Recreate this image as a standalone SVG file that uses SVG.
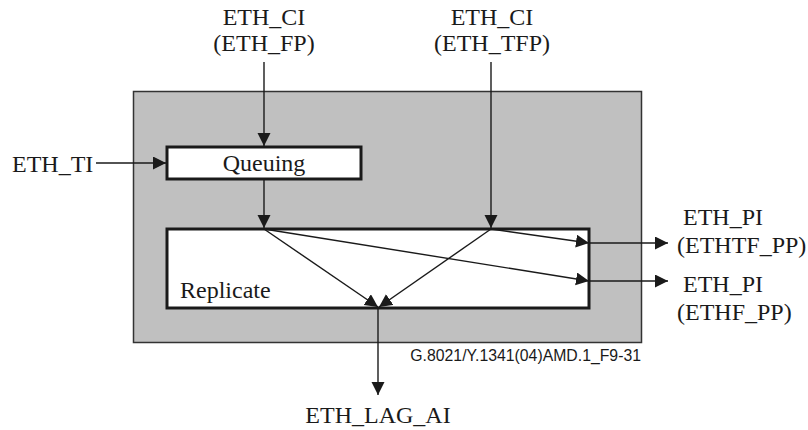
<svg xmlns="http://www.w3.org/2000/svg" width="808" height="430" viewBox="0 0 808 430">
<defs>
<marker id="ah" markerUnits="userSpaceOnUse" markerWidth="14" markerHeight="14" refX="13" refY="6.5" orient="auto">
<path d="M0,0 L13,6.5 L0,13 z" fill="#1a1a1a"/>
</marker>
</defs>
<style>
.t{font-family:"Liberation Serif","Times New Roman",serif;font-size:24px;fill:#1a1a1a}
.c{text-anchor:middle}
.cap{font-family:"Liberation Sans",Arial,sans-serif;font-size:15.8px;fill:#1a1a1a;text-anchor:end}
.box{fill:#fff;stroke:#1a1a1a;stroke-width:3}
.ln{stroke:#1a1a1a;stroke-width:1.4;fill:none}
.ar{marker-end:url(#ah)}
</style>
<rect width="808" height="430" fill="#fff"/>
<g id="container">
<rect x="133.5" y="91.5" width="508" height="251" fill="#c0c0c0" stroke="#333" stroke-width="1.5"/>
</g>
<g id="queuing">
<rect class="box" x="167" y="147" width="194" height="32"/>
<text class="t c" x="264" y="171">Queuing</text>
</g>
<g id="replicate">
<rect class="box" x="167" y="229" width="422" height="79"/>
<text class="t" x="180" y="298">Replicate</text>
</g>
<g id="labels">
<text class="t c" x="264" y="25">ETH_CI</text>
<text class="t c" x="264" y="51">(ETH_FP)</text>
<text class="t c" x="492" y="25">ETH_CI</text>
<text class="t c" x="492" y="51">(ETH_TFP)</text>
<text class="t" x="12" y="172">ETH_TI</text>
<text class="t" x="683" y="225">ETH_PI</text>
<text class="t" x="677" y="253">(ETHTF_PP)</text>
<text class="t" x="683" y="292">ETH_PI</text>
<text class="t" x="677" y="320">(ETHF_PP)</text>
<text class="t c" x="378" y="423">ETH_LAG_AI</text>
<text class="cap" x="641" y="361">G.8021/Y.1341(04)AMD.1_F9-31</text>
</g>
<g id="connectors">
<line class="ln ar" x1="264" y1="62" x2="264" y2="146"/>
<line class="ln ar" x1="96" y1="163" x2="166" y2="163"/>
<line class="ln ar" x1="264" y1="180" x2="264" y2="228"/>
<line class="ln ar" x1="491" y1="62" x2="491" y2="228"/>
<line class="ln ar" x1="264" y1="229" x2="378" y2="307"/>
<line class="ln ar" x1="491" y1="229" x2="379" y2="307"/>
<line class="ln ar" x1="491" y1="229" x2="589" y2="243"/>
<line class="ln ar" x1="264" y1="229" x2="589" y2="281"/>
<line class="ln ar" x1="589" y1="243" x2="668" y2="243"/>
<line class="ln ar" x1="589" y1="281" x2="668" y2="281"/>
<line class="ln ar" x1="378" y1="309" x2="378" y2="395"/>
</g>
</svg>
